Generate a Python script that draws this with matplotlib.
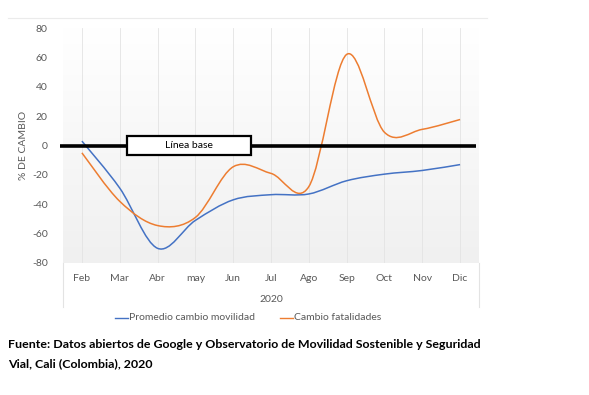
import numpy as np
import matplotlib.pyplot as plt
from matplotlib.path import Path
from matplotlib.patches import PathPatch, Rectangle
from matplotlib.lines import Line2D

# ── Data ──────────────────────────────────────────────────────────────────────
meses       = ["Feb", "Mar", "Abr", "may", "Jun", "Jul", "Ago", "Sep", "Oct", "Nov", "Dic"]
movilidad   = [3, -29, -70, -51, -37, -33.5, -33, -24, -19.5, -17, -13]
fatalidades = [-5, -38, -54.5, -49, -14.5, -19, -28, 62, 9, 11, 17.7]
yticks      = [-80, -60, -40, -20, 0, 20, 40, 60, 80]

BLUE   = "#4472C4"
ORANGE = "#ED7D31"
GREY   = "#595959"
FONT   = "Lato"

def smooth_path(xs, ys):
    # Excel-style smoothed line: cubic Bezier through every point
    p = np.column_stack([xs, ys]).astype(float)
    ext = np.vstack([p[0], p, p[-1]])
    verts, codes = [p[0]], [Path.MOVETO]
    for i in range(len(p) - 1):
        c1 = ext[i + 1] + (ext[i + 2] - ext[i]) / 6
        c2 = ext[i + 2] - (ext[i + 3] - ext[i + 1]) / 6
        verts += [c1, c2, ext[i + 2]]
        codes += [Path.CURVE4] * 3
    return Path(verts, codes)

fig = plt.figure(figsize=(5.89, 3.95), dpi=100)
W, H = 589, 395
L, R, T, B = 63, 479, 28, 263
ax = fig.add_axes([L / W, 1 - B / H, (R - L) / W, (B - T) / H])

x = np.arange(len(meses))
ax.set_xlim(-0.5, len(meses) - 0.5)
ax.set_ylim(-80, 80)

# gradient background (white at top -> light grey at bottom)
grad = np.linspace(0, 1, 256).reshape(-1, 1)
ax.imshow(grad, extent=(-0.5, len(meses) - 0.5, -80, 80), aspect="auto",
          cmap=plt.matplotlib.colors.LinearSegmentedColormap.from_list("g", ["#ffffff", "#f0f0f0"]),
          origin="upper", zorder=0)

for xi in x:
    ax.axvline(xi, color="#e3e3e3", lw=0.6, zorder=1)

ax.add_patch(PathPatch(smooth_path(x, movilidad), fill=False, edgecolor=BLUE, lw=1.1, zorder=3))
ax.add_patch(PathPatch(smooth_path(x, fatalidades), fill=False, edgecolor=ORANGE, lw=1.1, zorder=3))

# baseline with label box
ax.plot([-0.007, 0.993], [0.5, 0.5], transform=ax.transAxes, color="black", lw=2.6,
        clip_on=False, zorder=4, solid_capstyle="butt")
bx0, bx1 = (127 - L) / (R - L), (251 - L) / (R - L)
by0, by1 = (B - 155) / (B - T), (B - 136) / (B - T)
ax.add_patch(Rectangle((bx0, by0), bx1 - bx0, by1 - by0, transform=ax.transAxes,
                       facecolor="white", edgecolor="black", lw=1.6, zorder=5))
ax.text((bx0 + bx1) / 2, 0.5, "Línea base", transform=ax.transAxes, ha="center", va="center",
        fontsize=7.5, family=FONT, color="black", zorder=6)

for s in ax.spines.values():
    s.set_visible(False)
ax.set_yticks(yticks)
ax.set_yticklabels([str(v) for v in yticks], family=FONT, fontsize=7.5, color=GREY)
ax.set_xticks(x)
ax.set_xticklabels(meses, family=FONT, fontsize=7.5, color=GREY)
ax.tick_params(length=0, pad=8)
ax.tick_params(axis="y", pad=11)

ax.set_ylabel("% DE CAMBIO", family=FONT, fontsize=7.5, color=GREY)
ax.yaxis.set_label_coords((28 - L) / (R - L), 0.5)

# second category level and separators
fig.text((L + R) / 2 / W, 1 - 299 / H, "2020", ha="center", va="center",
         family=FONT, fontsize=7.5, color=GREY)
for xx in (L, R):
    fig.add_artist(Line2D([xx / W, xx / W], [1 - B / H, 1 - 307 / H], color="#e3e3e3", lw=0.8))
fig.add_artist(Line2D([8 / W, 487 / W], [1 - 18 / H, 1 - 18 / H], color="#ebebeb", lw=0.8))

# legend
ly = 1 - 318 / H
fig.add_artist(Line2D([115 / W, 128 / W], [ly, ly], color=BLUE, lw=1.0))
fig.text(129 / W, ly, "Promedio cambio movilidad", va="center", family=FONT, fontsize=7.5, color=GREY)
fig.add_artist(Line2D([280 / W, 293 / W], [ly, ly], color=ORANGE, lw=1.0))
fig.text(294 / W, ly, "Cambio fatalidades", va="center", family=FONT, fontsize=7.5, color=GREY)

# source caption
fig.text(8 / W, 1 - 345 / H, "Fuente: Datos abiertos de Google y Observatorio de Movilidad Sostenible y Seguridad",
         va="center", family=FONT, fontsize=8.9, fontweight="bold", color="black")
fig.text(8 / W, 1 - 364 / H, "Vial, Cali (Colombia), 2020",
         va="center", family=FONT, fontsize=8.9, fontweight="bold", color="black")

fig.savefig("out.png", dpi=100)
